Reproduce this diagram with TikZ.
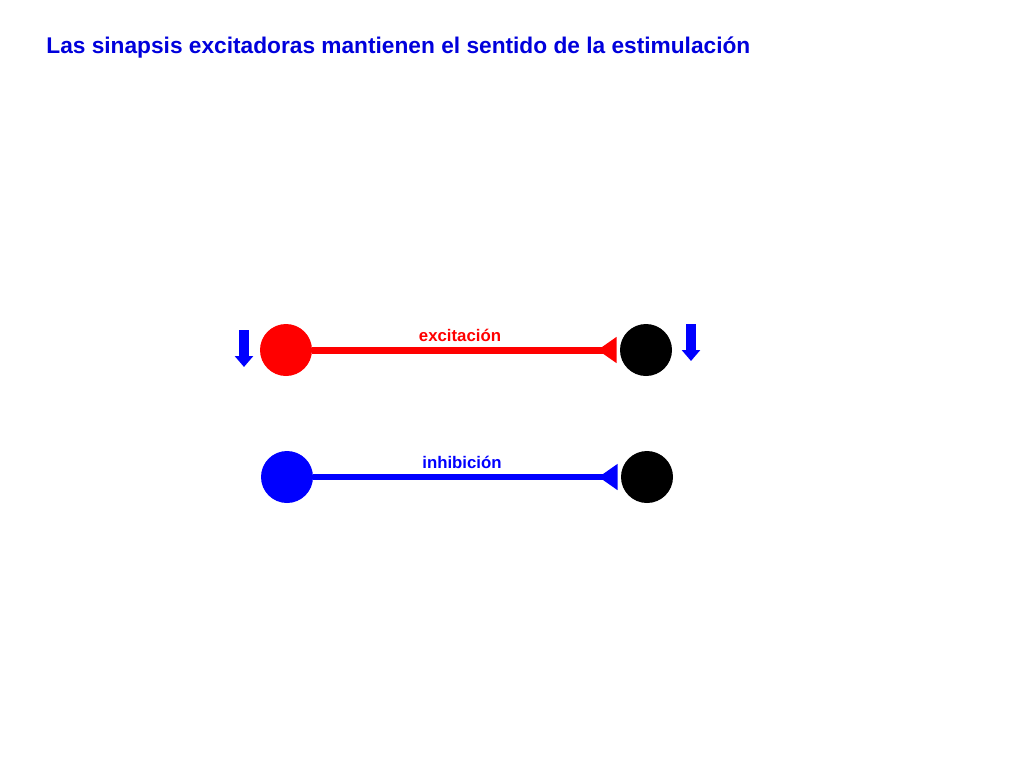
\documentclass[tikz,border=0pt]{standalone}
\usepackage{fontspec}
\setmainfont{Liberation Sans}
\usetikzlibrary{arrows.meta}
\definecolor{titleblue}{RGB}{0,0,220}

\begin{document}
\begin{tikzpicture}[x=0.5pt,y=-0.5pt,
  neuron/.style={circle, minimum size=26pt, inner sep=0pt},
  synapse/.style={-{Triangle[reversed,length=9.5pt,width=12.5pt]}, shorten >=1.5pt},
  downarrow/.style={blue, line width=5pt, -{Triangle[length=5.5pt,width=9pt]}}]
\useasboundingbox[fill=white] (0,0) rectangle (1024,768);
\node[anchor=west, inner sep=0pt, text=titleblue, font=\bfseries\fontsize{11.35}{13}\selectfont] (title) at (46,48) {Las sinapsis excitadoras mantienen el sentido de la estimulación};
\node[neuron, fill=red] (pre1) at (286,350) {};
\node[neuron, fill=black] (post1) at (646,350) {};
\node[neuron, fill=blue] (pre2) at (287,477) {};
\node[neuron, fill=black] (post2) at (647,477) {};
\draw[synapse, red, line width=3.5pt] (pre1) -- (post1);
\draw[synapse, blue, line width=3pt] (pre2) -- (post2);
\node[text=red, font=\bfseries\fontsize{8.4}{10}\selectfont] (exc) at (460,335) {excitación};
\node[text=blue, font=\bfseries\fontsize{8.4}{10}\selectfont] (inh) at (462,462) {inhibición};
\coordinate (a1) at (244,330);
\coordinate (a2) at (244,367);
\coordinate (b1) at (691,324);
\coordinate (b2) at (691,361);
\draw[downarrow] (a1) -- (a2);
\draw[downarrow] (b1) -- (b2);
\end{tikzpicture}
\end{document}
